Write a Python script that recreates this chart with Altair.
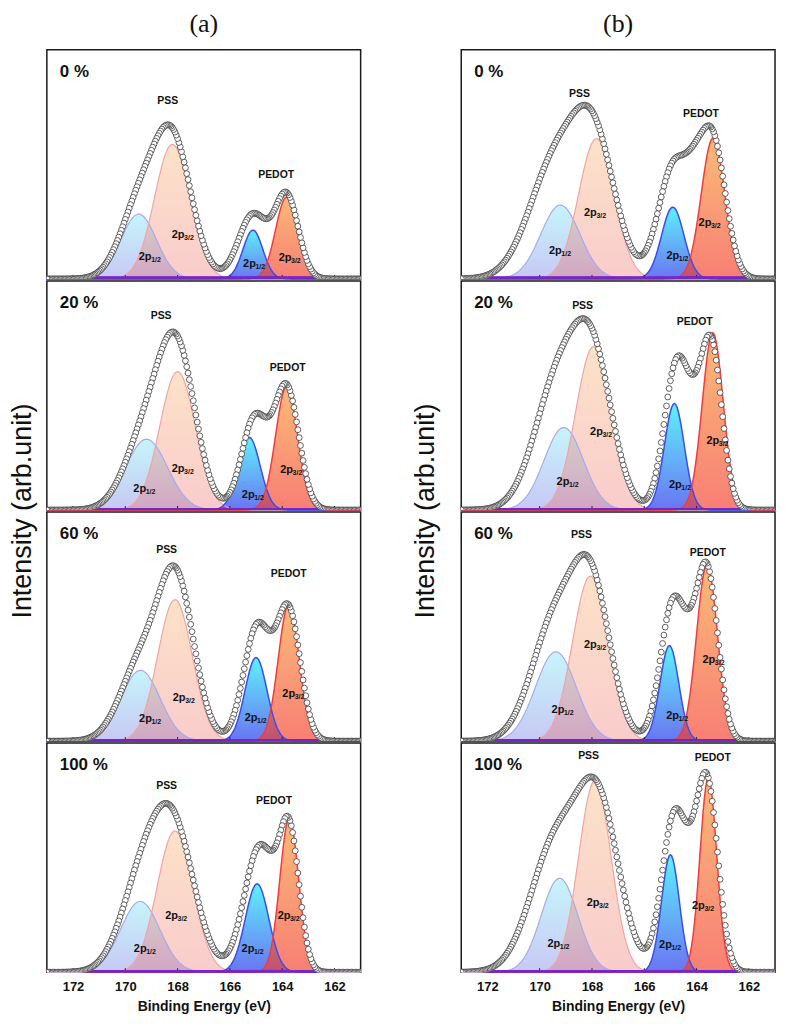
import numpy as np
import pandas as pd
import altair as alt

# ---------------- data ----------------
PANEL_LABELS = ["0 %", "20 %", "60 %", "100 %"]
COLUMN_TITLES = ["(a)", "(b)"]
TICKS = [172, 170, 168, 166, 164, 162]
COMP_KEYS = ["pss12", "pss32", "ped12", "ped32"]  # PSS 2p1/2, PSS 2p3/2, PEDOT 2p1/2, PEDOT 2p3/2
SUBS = ["1/2", "3/2", "1/2", "3/2"]

# fitted components: centre (eV), height (fraction of panel), sigma (eV)
A_COMP_CENTER = [[169.49, 168.20, 165.12, 163.83], [169.19, 168.00, 165.26, 163.83],
                 [169.42, 168.10, 165.00, 163.75], [169.43, 168.10, 164.96, 163.73]]
A_COMP_HEIGHT = [[0.283, 0.587, 0.213, 0.357], [0.309, 0.604, 0.317, 0.539],
                 [0.309, 0.617, 0.365, 0.596], [0.309, 0.617, 0.386, 0.671]]
A_COMP_SIGMA = [[0.68, 0.68, 0.38, 0.42], [0.80, 0.68, 0.42, 0.42],
                [0.75, 0.66, 0.42, 0.40], [0.75, 0.68, 0.45, 0.36]]
B_COMP_CENTER = [[169.21, 167.83, 164.91, 163.37], [169.08, 167.94, 164.85, 163.38],
                 [169.38, 168.06, 165.04, 163.60], [169.24, 167.89, 165.00, 163.55]]
B_COMP_HEIGHT = [[0.322, 0.612, 0.313, 0.614], [0.360, 0.713, 0.465, 0.774],
                 [0.390, 0.720, 0.417, 0.770], [0.410, 0.835, 0.513, 0.850]]
B_COMP_SIGMA = [[0.75, 0.68, 0.43, 0.45], [0.75, 0.68, 0.38, 0.40],
                [0.78, 0.68, 0.36, 0.40], [0.70, 0.62, 0.34, 0.32]]

# measured envelope (open circles), described by a few broad peaks per panel
A_ENV_CENTER = [[169.49, 168.20, 165.12, 163.83], [169.19, 168.00, 165.05, 163.83],
                [169.42, 168.05, 164.95, 163.75], [169.40, 168.15, 164.85, 163.72]]
A_ENV_HEIGHT = [[0.30, 0.60, 0.28, 0.36], [0.33, 0.65, 0.40, 0.53],
                [0.33, 0.685, 0.50, 0.56], [0.36, 0.60, 0.55, 0.575]]
A_ENV_SIGMA = [[0.72, 0.72, 0.55, 0.45], [0.80, 0.70, 0.50, 0.47],
               [0.78, 0.68, 0.52, 0.45], [0.80, 0.80, 0.60, 0.38]]
B_ENV_CENTER = [[169.40, 167.90, 164.85, 163.40, 164.10], [169.30, 167.95, 164.75, 163.45, 164.10],
                [169.40, 168.00, 164.90, 163.60, 164.25], [169.40, 167.75, 164.85, 163.60, 164.20]]
B_ENV_HEIGHT = [[0.50, 0.55, 0.50, 0.61, 0.13], [0.55, 0.60, 0.64, 0.72, 0.12],
                [0.52, 0.62, 0.60, 0.74, 0.12], [0.55, 0.70, 0.68, 0.82, 0.10]]
B_ENV_SIGMA = [[1.00, 0.80, 0.60, 0.50, 0.35], [0.90, 0.75, 0.48, 0.42, 0.35],
               [0.90, 0.72, 0.48, 0.42, 0.35], [0.95, 0.80, 0.48, 0.42, 0.35]]

# label positions (eV, fraction of panel height)
A_NAME_POS = [[(168.38, 0.778), (164.23, 0.455)], [(168.63, 0.848), (163.79, 0.620)],
              [(168.42, 0.836), (163.75, 0.730)], [(168.42, 0.813), (164.31, 0.748)]]
B_NAME_POS = [[(168.48, 0.806), (163.83, 0.719)], [(168.36, 0.890), (164.07, 0.820)],
              [(168.40, 0.900), (163.57, 0.820)], [(168.13, 0.943), (163.38, 0.935)]]
A_2P_POS = [[(169.24, 0.096), (167.98, 0.190), (165.25, 0.064), (163.89, 0.090)],
            [(169.45, 0.090), (167.98, 0.178), (165.30, 0.065), (163.83, 0.174)],
            [(169.23, 0.096), (167.94, 0.187), (165.19, 0.100), (163.75, 0.204)],
            [(169.43, 0.100), (168.23, 0.245), (165.31, 0.103), (163.93, 0.245)]]
B_2P_POS = [[(169.40, 0.122), (168.06, 0.288), (164.91, 0.100), (163.68, 0.245)],
            [(169.11, 0.122), (167.83, 0.340), (164.81, 0.109), (163.38, 0.300)],
            [(169.30, 0.135), (168.06, 0.420), (164.92, 0.109), (163.53, 0.352)],
            [(169.46, 0.125), (167.96, 0.300), (165.19, 0.117), (163.93, 0.290)]]

BE = np.round(np.arange(161.0, 173.0 + 1e-9, 0.05), 3)

# ---------------- styling ----------------
W, H = 315, 230
FONT = "Liberation Sans"
INK = "#111111"
FILL_TOP = ["#41ddf1", "#f89e48", "#07ebfc", "#f9952f"]
FILL_BOT = ["#4848da", "#eb5555", "#1a2aeb", "#f43a2a"]
FILL_OP = [0.30, 0.30, 0.65, 0.65]
LINE_COL = ["#a9a9ee", "#f3a3a3", "#3b4cf0", "#f23c3c"]
LINE_W = [1.2, 1.2, 1.5, 1.5]


def gauss(x, c, h, s):
    return h * np.exp(-0.5 * ((x - c) / s) ** 2)


def grad(top, bottom):
    return alt.Gradient(
        gradient="linear",
        stops=[alt.GradientStop(color=top, offset=0), alt.GradientStop(color=bottom, offset=1)],
        x1=0, x2=0, y1=0, y2=1,
    )


def panel(col, i):
    if col == 0:
        cc, hh, ss = A_COMP_CENTER[i], A_COMP_HEIGHT[i], A_COMP_SIGMA[i]
        ec, eh, es = A_ENV_CENTER[i], A_ENV_HEIGHT[i], A_ENV_SIGMA[i]
        names, twop = A_NAME_POS[i], A_2P_POS[i]
    else:
        cc, hh, ss = B_COMP_CENTER[i], B_COMP_HEIGHT[i], B_COMP_SIGMA[i]
        ec, eh, es = B_ENV_CENTER[i], B_ENV_HEIGHT[i], B_ENV_SIGMA[i]
        names, twop = B_NAME_POS[i], B_2P_POS[i]

    df = pd.DataFrame({"be": BE})
    for k, key in enumerate(COMP_KEYS):
        df[key] = gauss(BE, cc[k], hh[k], ss[k])
    df["env"] = sum(gauss(BE, ec[k], eh[k], es[k]) for k in range(len(ec)))

    xscale = alt.Scale(domain=[161, 173], reverse=True, nice=False, zero=False)
    yscale = alt.Scale(domain=[0, 1], nice=False, zero=True)
    if i == 3:
        axis = alt.Axis(values=TICKS, format="d", ticks=False, domain=False, grid=False,
                        labelFont=FONT, labelFontSize=13, labelFontWeight="bold", labelColor=INK,
                        labelPadding=8, title="Binding Energy (eV)", titleFont=FONT,
                        titleFontSize=14, titleFontWeight="bold", titleColor=INK, titlePadding=6)
    else:
        axis = None
    xe = alt.X("be:Q", scale=xscale, axis=axis)

    def ye(field):
        return alt.Y(f"{field}:Q", scale=yscale, axis=None)

    base = alt.Chart(df)
    layers = []
    for k, key in enumerate(COMP_KEYS):
        layers.append(base.mark_area(fill=grad(FILL_TOP[k], FILL_BOT[k]), fillOpacity=FILL_OP[k])
                      .encode(x=xe, y=ye(key)))
    for k, key in enumerate(COMP_KEYS):
        layers.append(base.mark_line(color=LINE_COL[k], strokeWidth=LINE_W[k])
                      .encode(x=xe, y=ye(key)))

    tick_df = pd.DataFrame({"be": TICKS})
    layers.append(alt.Chart(tick_df).mark_rule(color="#222222", strokeWidth=1)
                  .encode(x=xe, y=alt.value(H), y2=alt.value(H - 4)))
    layers.append(alt.Chart(tick_df).mark_rule(color="#7426c8", strokeWidth=2.2)
                  .encode(x=alt.value(0), x2=alt.value(W), y=alt.value(H - 1)))

    layers.append(base.mark_point(shape="circle", size=34, filled=True, fill="white", fillOpacity=1,
                                  stroke="#3a3a3a", strokeWidth=0.8, opacity=1, clip=True)
                  .encode(x=xe, y=ye("env")))

    name_df = pd.DataFrame({"be": [p[0] for p in names], "v": [p[1] for p in names],
                            "t": ["PSS", "PEDOT"]})
    layers.append(alt.Chart(name_df).mark_text(font=FONT, fontSize=10.5, fontWeight="bold", color=INK,
                                               align="center", baseline="middle")
                  .encode(x=xe, y=ye("v"), text="t:N"))
    tp_df = pd.DataFrame({"be": [p[0] for p in twop], "v": [p[1] for p in twop],
                          "t": ["2p"] * 4, "s": SUBS})
    layers.append(alt.Chart(tp_df).mark_text(font=FONT, fontSize=11, fontWeight="bold", color=INK,
                                             align="center", baseline="middle")
                  .encode(x=xe, y=ye("v"), text="t:N"))
    layers.append(alt.Chart(tp_df).mark_text(font=FONT, fontSize=7, fontWeight="bold", color=INK,
                                             align="left", baseline="middle", dx=6, dy=3)
                  .encode(x=xe, y=ye("v"), text="s:N"))

    lab_df = pd.DataFrame({"t": [PANEL_LABELS[i]]})
    layers.append(alt.Chart(lab_df).mark_text(font=FONT, fontSize=17, fontWeight="bold", color=INK,
                                              align="left", baseline="alphabetic")
                  .encode(x=alt.value(13), y=alt.value(27), text="t:N"))

    if i == 0:
        t_df = pd.DataFrame({"t": [COLUMN_TITLES[col]]})
        layers.append(alt.Chart(t_df).mark_text(font="Liberation Serif", fontSize=26, color=INK,
                                                align="center", baseline="middle")
                      .encode(x=alt.value(W / 2), y=alt.value(-26), text="t:N"))
    if i == 1:
        y_df = pd.DataFrame({"t": ["Intensity (arb.unit)"]})
        layers.append(alt.Chart(y_df).mark_text(font=FONT, fontSize=27, color=INK, angle=270,
                                                align="center", baseline="middle")
                      .encode(x=alt.value(-23.5 if col == 0 else -35), y=alt.value(H + 1), text="t:N"))

    return alt.layer(*layers).properties(width=W, height=H)


columns = []
for col in range(2):
    columns.append(alt.vconcat(*[panel(col, i) for i in range(4)], spacing=2).properties(bounds="flush"))

chart = (alt.hconcat(*columns, spacing=47)
         .properties(padding=0)
         .configure_view(stroke="#1a1a1a", strokeWidth=1.5))

chart.save("out.html", embed_options={"renderer": "svg", "actions": False})
